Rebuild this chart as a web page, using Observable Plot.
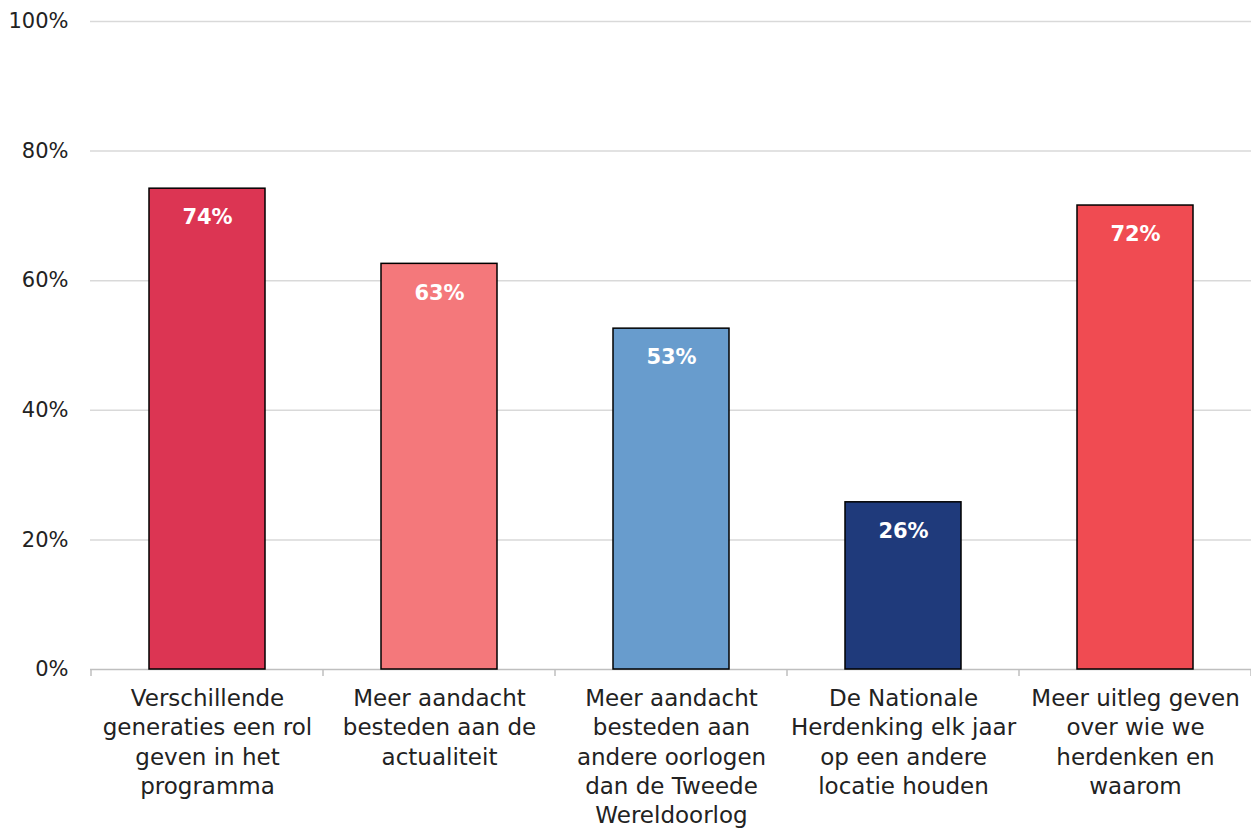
<!DOCTYPE html>
<html>
<head>
<meta charset="utf-8">
<script src="https://cdn.jsdelivr.net/npm/d3@7"></script>
<script src="https://cdn.jsdelivr.net/npm/@observablehq/plot@0.6"></script>
<style>
  html, body { margin: 0; padding: 0; background: #fff; }
  #chart svg { display: block; }
</style>
</head>
<body>
<div id="chart"></div>
<script>
const categories = [
  "Verschillende\ngeneraties een rol\ngeven in het\nprogramma",
  "Meer aandacht\nbesteden aan de\nactualiteit",
  "Meer aandacht\nbesteden aan\nandere oorlogen\ndan de Tweede\nWereldoorlog",
  "De Nationale\nHerdenking elk jaar\nop een andere\nlocatie houden",
  "Meer uitleg geven\nover wie we\nherdenken en\nwaarom"
];
const values = [74.2, 62.6, 52.6, 25.8, 71.6];
const labels = ["74%", "63%", "53%", "26%", "72%"];
const colors = ["#DC3553", "#F4787B", "#689CCD", "#1F3A7B", "#F04B52"];
const yTicks = [0, 20, 40, 60, 80, 100];

const data = categories.map((c, i) => ({cat: c, value: values[i], label: labels[i], color: colors[i]}));
const font = "'DejaVu Sans', sans-serif";

const plot = Plot.plot({
  width: 1251,
  height: 831,
  marginLeft: 90,
  marginRight: 0,
  marginTop: 21,
  marginBottom: 162,
  style: {fontFamily: font, background: "#fff"},
  x: {domain: categories, paddingInner: 0.5, paddingOuter: 0.25, label: null},
  y: {domain: [0, 100], label: null},
  marks: [
    Plot.ruleY(yTicks.filter(d => d > 0), {stroke: "#d9d9d9", strokeWidth: 1.5}),
    Plot.ruleY([0], {stroke: "#bfbfbf", strokeWidth: 1.5}),
    Plot.barY(data, {x: "cat", y: "value", fill: "color", stroke: "#000", strokeWidth: 1.5}),
    Plot.text(data, {x: "cat", y: "value", text: "label", dy: 29, fill: "#fff", fontWeight: "bold", fontSize: 21, fontFamily: font}),
    Plot.axisY({ticks: yTicks, tickFormat: d => d + "%", tickSize: 0, tickPadding: 22, fontSize: 21, fill: "#222", fontFamily: font}),
    Plot.axisX({tickSize: 0, tickPadding: 16, fontSize: 23, fill: "#222", lineHeight: 1.27, fontFamily: font, textAnchor: "middle"})
  ]
});

// category boundary ticks below the axis, from the plot's own x scale
const xs = plot.scale("x");
const step = xs.step;
const bounds = categories.map(c => xs.apply(c) - (step - xs.bandwidth) / 2);
bounds.push(bounds[bounds.length - 1] + step);
const ys = plot.scale("y");
const y0 = ys.apply(0);
d3.select(plot).append("g")
  .selectAll("line").data(bounds).join("line")
  .attr("x1", d => d).attr("x2", d => d)
  .attr("y1", y0).attr("y2", y0 + 7)
  .attr("stroke", "#bfbfbf").attr("stroke-width", 1.5);

document.getElementById("chart").appendChild(plot);
</script>
</body>
</html>
